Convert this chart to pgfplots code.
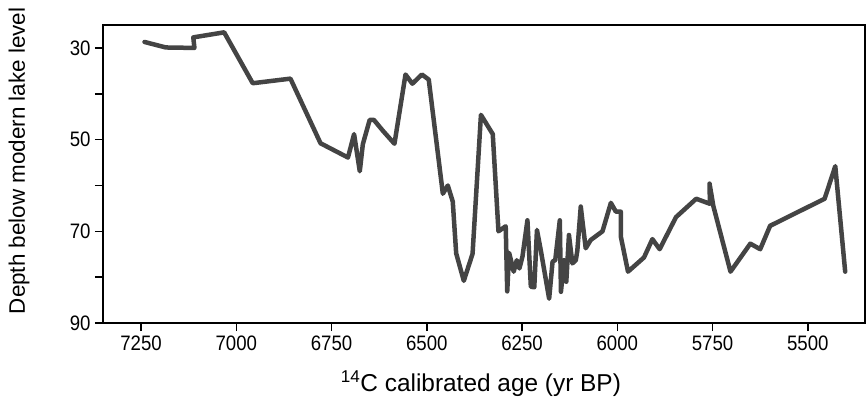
\documentclass[border=0pt]{standalone}
\usepackage{fontspec}
\setmainfont{Liberation Sans}
\newfontfamily\tickfont{Liberation Sans}[FakeStretch=0.89]
\usepackage{pgfplots}
\pgfplotsset{compat=1.18}
\pgfplotstableread{
age depth
7241 28.7
7185 29.9
7110 30.0
7113 27.7
7032 26.6
6957 37.7
6858 36.7
6779 50.8
6707 53.9
6691 48.8
6676 56.9
6668 51.0
6650 45.7
6639 45.7
6615 48.1
6585 50.9
6556 35.8
6538 37.8
6513 35.8
6495 36.9
6458 61.8
6445 60.0
6432 63.5
6423 74.8
6403 80.8
6380 74.9
6358 44.6
6327 48.8
6312 70.0
6293 68.9
6289 83.1
6284 74.7
6272 78.8
6264 76.3
6257 78.1
6249 75.5
6236 67.6
6227 82.1
6218 82.2
6211 69.7
6201 74.1
6179 84.7
6170 76.6
6163 76.3
6151 67.6
6148 83.2
6140 76.3
6134 81.0
6127 70.8
6118 77.0
6109 76.3
6105 74.2
6096 64.6
6092 67.5
6083 73.7
6070 71.9
6039 70.0
6017 63.8
6004 65.7
5991 65.7
5991 71.1
5972 78.8
5930 75.7
5908 71.7
5889 73.9
5846 66.9
5793 62.9
5757 64.0
5758 59.6
5748 64.5
5703 78.8
5651 72.7
5625 73.9
5599 68.8
5456 62.9
5428 55.8
5402 78.8
}\lakedata
\definecolor{linegray}{HTML}{444444}
\begin{document}
\begin{tikzpicture}
\begin{axis}[
  at={(0,0)}, anchor=south west,
  scale only axis, width=762bp, height=298bp,
  x dir=reverse, y dir=reverse,
  xmin=5350, xmax=7350, ymin=25, ymax=90,
  xtick={5500,5750,...,7250},
  ytick={30,40,...,90},
  yticklabels={30,,50,,70,,90},
  xtick pos=bottom, ytick pos=left,
  /pgf/number format/assume math mode=true,
  /pgf/number format/set thousands separator={},
  scaled x ticks=false,
  tick align=outside,
  major tick length=8bp,
  tick style={line width=1.6bp, black},
  axis line style={line width=1.8bp, black},
  tick label style={font=\tickfont\fontsize{21}{23}\selectfont},
  xticklabel style={yshift=-1bp},
  yticklabel style={xshift=-1bp},
  xlabel={\textsuperscript{14}C calibrated age (yr BP)},
  ylabel={Depth below modern lake level},
  xlabel style={font=\fontsize{24.5}{27}\selectfont, at={(axis description cs:0.496,-0.205)}, anchor=center},
  ylabel style={font=\fontsize{22.5}{26}\selectfont, at={(axis description cs:-0.110,0.544)}, anchor=center, rotate=0},
  clip=false,
]
\addplot[linegray, line width=4.5bp, line join=round, line cap=round] table[x=age, y=depth] {\lakedata};
\end{axis}
\pgfresetboundingbox
\useasboundingbox (-103bp,-80bp) rectangle (765bp,323bp);
\end{tikzpicture}
\end{document}
